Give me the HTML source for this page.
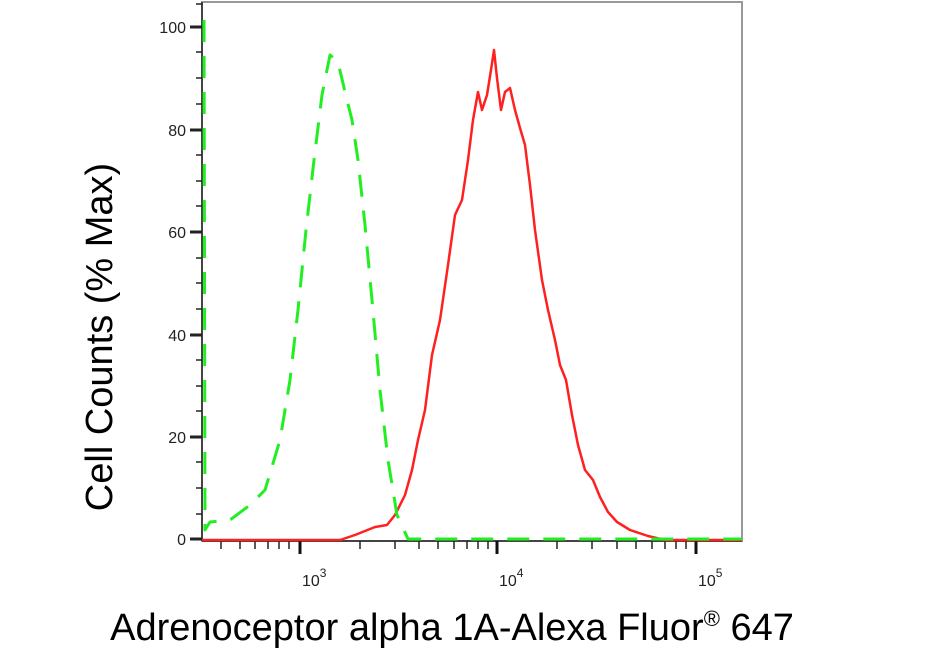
<!DOCTYPE html>
<html><head><meta charset="utf-8"><style>
html,body{margin:0;padding:0;background:#fff;}
svg{display:block;}
</style></head><body>
<svg width="942" height="658" xmlns="http://www.w3.org/2000/svg" font-family="Liberation Sans, Arial, sans-serif">
<rect x="202" y="2" width="540" height="539" fill="#fff" stroke="#999" stroke-width="2"/>
<line x1="202" y1="2" x2="202" y2="541" stroke="#444" stroke-width="2"/>
<line x1="202" y1="541" x2="742" y2="541" stroke="#444" stroke-width="2"/>
<g stroke="#222" stroke-width="3">
<line x1="190" y1="27" x2="202" y2="27"/><line x1="190" y1="130" x2="202" y2="130"/><line x1="190" y1="232" x2="202" y2="232"/><line x1="190" y1="335" x2="202" y2="335"/><line x1="190" y1="437" x2="202" y2="437"/><line x1="190" y1="539" x2="202" y2="539"/>
</g>
<g stroke="#222" stroke-width="1.5">
<line x1="196" y1="52" x2="202" y2="52"/><line x1="196" y1="78" x2="202" y2="78"/><line x1="196" y1="104" x2="202" y2="104"/>
<line x1="196" y1="155" x2="202" y2="155"/><line x1="196" y1="181" x2="202" y2="181"/><line x1="196" y1="206" x2="202" y2="206"/>
<line x1="196" y1="258" x2="202" y2="258"/><line x1="196" y1="283" x2="202" y2="283"/><line x1="196" y1="309" x2="202" y2="309"/>
<line x1="196" y1="360" x2="202" y2="360"/><line x1="196" y1="386" x2="202" y2="386"/><line x1="196" y1="411" x2="202" y2="411"/>
<line x1="196" y1="462" x2="202" y2="462"/><line x1="196" y1="488" x2="202" y2="488"/><line x1="196" y1="514" x2="202" y2="514"/>
<line x1="196" y1="4" x2="202" y2="4"/>
</g>
<g font-size="16" fill="#222" text-anchor="end">
<text x="186" y="33">100</text><text x="186" y="136">80</text><text x="186" y="238">60</text><text x="186" y="341">40</text><text x="186" y="443">20</text><text x="186" y="545">0</text>
</g>
<g stroke="#222" stroke-width="1.5">
<line x1="221" y1="541" x2="221" y2="549"/><line x1="240" y1="541" x2="240" y2="549"/><line x1="255" y1="541" x2="255" y2="549"/><line x1="268" y1="541" x2="268" y2="549"/><line x1="279" y1="541" x2="279" y2="549"/><line x1="289" y1="541" x2="289" y2="549"/>
<line x1="360" y1="541" x2="360" y2="549"/><line x1="395" y1="541" x2="395" y2="549"/><line x1="419" y1="541" x2="419" y2="549"/><line x1="438" y1="541" x2="438" y2="549"/><line x1="454" y1="541" x2="454" y2="549"/><line x1="467" y1="541" x2="467" y2="549"/><line x1="478" y1="541" x2="478" y2="549"/><line x1="488" y1="541" x2="488" y2="549"/>
<line x1="557" y1="541" x2="557" y2="549"/><line x1="592" y1="541" x2="592" y2="549"/><line x1="617" y1="541" x2="617" y2="549"/><line x1="636" y1="541" x2="636" y2="549"/><line x1="652" y1="541" x2="652" y2="549"/><line x1="665" y1="541" x2="665" y2="549"/><line x1="676" y1="541" x2="676" y2="549"/><line x1="686" y1="541" x2="686" y2="549"/>
</g>
<g stroke="#111" stroke-width="3">
<line x1="300" y1="541" x2="300" y2="554"/><line x1="497" y1="541" x2="497" y2="554"/><line x1="696" y1="541" x2="696" y2="554"/>
</g>
<g font-size="16" fill="#222">
<text x="302" y="586">10<tspan dy="-9" font-size="12">3</tspan></text>
<text x="499" y="586">10<tspan dy="-9" font-size="12">4</tspan></text>
<text x="698" y="586">10<tspan dy="-9" font-size="12">5</tspan></text>
</g>
<polyline fill="none" stroke="#ff2020" stroke-width="2.5" stroke-linejoin="round" points="202,540 340,540 355,535 375,527 387,525 395,515 405,495 412,470 418,440 425,410 432,355 440,320 448,265 455,215 462,200 468,160 473,120 478,92 482,110 487,95 491,70 494,50 497,78 501,110 505,92 510,88 515,110 520,128 525,145 530,185 535,230 542,280 548,310 555,340 560,365 566,380 572,415 578,445 585,470 593,480 600,497 608,512 617,522 630,530 648,536 665,540 742,540"/>
<polyline fill="none" stroke="#22ee22" stroke-width="3" stroke-dasharray="22,14" stroke-linejoin="round" points="204,20 205,530 210,522 230,520 250,505 265,490 280,440 290,380 298,310 306,230 314,160 322,95 330,55 338,62 345,92 352,120 358,160 365,225 372,300 380,390 388,460 397,515 408,539 742,539"/>
<text transform="translate(112,337) rotate(-90)" text-anchor="middle" font-size="38" fill="#000">Cell Counts (% Max)</text>
<text x="452" y="640" text-anchor="middle" font-size="38" fill="#000">Adrenoceptor alpha 1A-Alexa Fluor<tspan dy="-14" font-size="22">®</tspan><tspan dy="14"> 647</tspan></text>
</svg>
</body></html>
